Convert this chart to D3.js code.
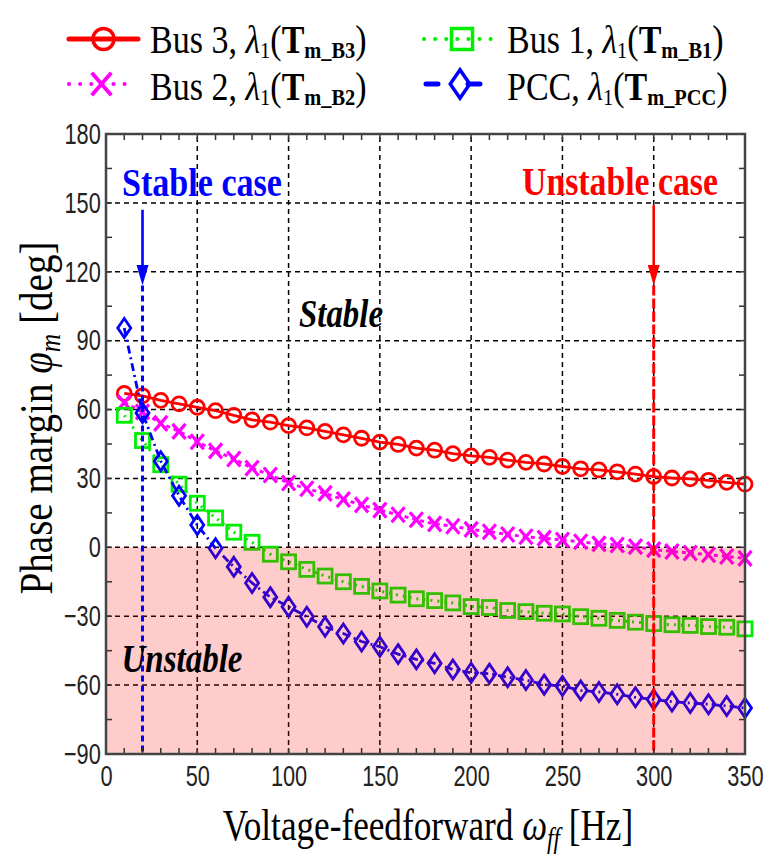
<!DOCTYPE html>
<html><head><meta charset="utf-8">
<script src="https://cdn.jsdelivr.net/npm/d3@7"></script>
<style>body{margin:0;background:#fff} svg{display:block}</style>
</head><body>
<svg id="c" width="767" height="854"></svg>
<script>
// ---------------- data ----------------
const freqHz = [10,20,30,40,50,60,70,80,90,100,110,120,130,140,150,160,170,180,190,200,210,220,230,240,250,260,270,280,290,300,310,320,330,340,350];
const bus3 = [67,66,64,62.5,61,59.5,57.5,55.5,54.5,53,52,50.5,49,47.5,45.8,44.8,43.2,42.3,40.8,39.8,39.2,38,37,36.3,35.2,34.2,33.7,32.9,31.9,30.8,30.2,29.8,29.2,28.3,27.5];
const bus2 = [63,59,54,50.5,46,42,38.5,34.5,31.5,28,25.5,23.5,20.8,18.5,16.2,14.2,12,10.2,9.2,7.8,6.8,5.6,4.6,4,3.2,2.4,1.5,1,0.3,-1,-1.8,-2.5,-3.2,-4,-4.8];
const bus1 = [57.5,46.5,36,27.5,19.2,12.8,6.6,2.2,-3,-6.3,-9.6,-12.5,-15,-17,-19,-20.8,-22.4,-23.2,-24.2,-25.8,-26.2,-27.5,-28,-28.7,-29,-30.2,-30.9,-31.8,-32.6,-33.2,-33.7,-34,-34.5,-34.8,-35.5];
const pcc = [95.5,58.5,37.5,22.5,9.7,-0.4,-8.5,-15.5,-21.7,-25.9,-30.2,-34.6,-37.5,-41,-43.3,-46.5,-48.8,-50.5,-53.2,-54.6,-55,-56.6,-57.8,-59.8,-60.4,-62.3,-63,-64,-65.3,-66.3,-67.2,-67.8,-68.3,-69.1,-70];
const xTicks = [0,50,100,150,200,250,300,350];
const yTicks = [-90,-60,-30,0,30,60,90,120,150,180];
const seriesNames = ["Bus 3","Bus 1","Bus 2","PCC"];
const seriesSubs = ["m_B3","m_B1","m_B2","m_PCC"];
const stableCaseHz = 20, unstableCaseHz = 300;

// ---------------- setup ----------------
const svg = d3.select("#c");
const x = d3.scaleLinear().domain([0,350]).range([106,745]);
const y = d3.scaleLinear().domain([-90,180]).range([754,134]);
const X0 = x.range()[0], X1 = x.range()[1], Y0 = y.range()[0], Y1 = y.range()[1];

const styles = {
  "Bus 3": {color:"#ff0000", dash:null, width:2.8, marker:"circle", data:bus3},
  "Bus 1": {color:"#00ee00", dash:"2,5", width:3, marker:"square", data:bus1},
  "Bus 2": {color:"#ff00ff", dash:"4,4", width:3, marker:"x", data:bus2},
  "PCC":   {color:"#0000ff", dash:"8,4,2,4", width:2.8, marker:"diamond", data:pcc}
};

function drawMarker(g, type, color, k, sw) {
  k = k || 1; sw = sw || 2.8;
  if (type==="circle") g.append("circle").attr("r",7*k).attr("fill","none").attr("stroke",color).attr("stroke-width",sw);
  else if (type==="square") g.append("rect").attr("x",-7*k).attr("y",-7*k).attr("width",14*k).attr("height",14*k).attr("fill","none").attr("stroke",color).attr("stroke-width",sw);
  else if (type==="x") g.append("path").attr("d",`M${-6.5*k},${-7.5*k}L${6.5*k},${7.5*k}M${-6.5*k},${7.5*k}L${6.5*k},${-7.5*k}`).attr("stroke",color).attr("stroke-width",sw+0.4).attr("fill","none");
  else if (type==="diamond") g.append("path").attr("d",`M0,${-9.5*k}L${6.5*k},0L0,${9.5*k}L${-6.5*k},0Z`).attr("fill","none").attr("stroke",color).attr("stroke-width",sw);
}

// grid
const grid = svg.append("g");
grid.selectAll(".gx").data(xTicks.slice(1,-1)).join("line")
  .attr("x1",d=>x(d)).attr("x2",d=>x(d)).attr("y1",Y0).attr("y2",Y1)
  .attr("stroke","#000").attr("stroke-width",1.5).attr("stroke-dasharray","5,4");
grid.selectAll(".gy").data(yTicks.slice(1,-1)).join("line")
  .attr("y1",d=>y(d)).attr("y2",d=>y(d)).attr("x1",X0).attr("x2",X1)
  .attr("stroke","#000").attr("stroke-width",1.5).attr("stroke-dasharray","5,4");

// series
const order = ["Bus 3","Bus 2","Bus 1","PCC"];
order.forEach(name=>{
  const s = styles[name];
  const pts = freqHz.map((f,i)=>[f,s.data[i]]);
  svg.append("path").datum(pts)
    .attr("d", d3.line().x(d=>x(d[0])).y(d=>y(d[1])))
    .attr("fill","none").attr("stroke",s.color).attr("stroke-width",s.width)
    .attr("stroke-dasharray",s.dash);
  pts.forEach(p=>{
    const g = svg.append("g").attr("transform",`translate(${x(p[0])},${y(p[1])})`);
    drawMarker(g, s.marker, s.color);
  });
});

// unstable region overlay
svg.append("rect").attr("x",X0).attr("y",y(0)).attr("width",X1-X0).attr("height",Y0-y(0))
  .attr("fill","#ff0000").attr("fill-opacity",0.2);

// case markers (arrows + vertical lines)
function caseArrow(hz, color, dash, yTop, label, lx, lbase, lw) {
  const xp = x(hz);
  svg.append("line").attr("x1",xp).attr("x2",xp).attr("y1",y(yTop)).attr("y2",y(122))
    .attr("stroke",color).attr("stroke-width",2.6);
  svg.append("path").attr("d",`M${xp-6},${y(123)}L${xp+6},${y(123)}L${xp},${y(114)}Z`).attr("fill",color);
  svg.append("line").attr("x1",xp).attr("x2",xp).attr("y1",y(114)).attr("y2",Y0)
    .attr("stroke",color).attr("stroke-width",3).attr("stroke-dasharray",dash);
  svg.append("text").attr("x",lx).attr("y",lbase).attr("text-anchor","middle")
    .attr("font-family","Liberation Serif, serif").attr("font-weight","bold").attr("font-size",40)
    .attr("fill",color).attr("textLength",lw).attr("lengthAdjust","spacingAndGlyphs").text(label);
}
caseArrow(stableCaseHz, "#0000ff", "6,4", 147, "Stable case", 202, 196, 160);
caseArrow(unstableCaseHz, "#ff0000", "10,3", 149, "Unstable case", 620, 195, 196);

// region labels
svg.append("text").attr("x",341).attr("y",327).attr("text-anchor","middle")
  .attr("font-family","Liberation Serif, serif").attr("font-weight","bold").attr("font-style","italic")
  .attr("font-size",40).attr("textLength",84).attr("lengthAdjust","spacingAndGlyphs").text("Stable");
svg.append("text").attr("x",182).attr("y",672).attr("text-anchor","middle")
  .attr("font-family","Liberation Serif, serif").attr("font-weight","bold").attr("font-style","italic")
  .attr("font-size",40).attr("textLength",121).attr("lengthAdjust","spacingAndGlyphs").text("Unstable");

// ticks (inward) on all sides
const minorX = d3.range(0,351,10), minorY = d3.range(-90,181,15);
const tk = svg.append("g").attr("stroke","#333").attr("stroke-width",1.5);
minorX.forEach(v=>{
  tk.append("line").attr("x1",x(v)).attr("x2",x(v)).attr("y1",Y0).attr("y2",Y0-6);
  tk.append("line").attr("x1",x(v)).attr("x2",x(v)).attr("y1",Y1).attr("y2",Y1+6);
});
minorY.forEach(v=>{
  tk.append("line").attr("y1",y(v)).attr("y2",y(v)).attr("x1",X0).attr("x2",X0+6);
  tk.append("line").attr("y1",y(v)).attr("y2",y(v)).attr("x1",X1).attr("x2",X1-6);
});
// frame
svg.append("rect").attr("x",X0).attr("y",Y1).attr("width",X1-X0).attr("height",Y0-Y1)
  .attr("fill","none").attr("stroke","#444").attr("stroke-width",2.5);

// axis tick labels
const xa = svg.append("g").attr("transform",`translate(0,${Y0})`)
  .call(d3.axisBottom(x).tickValues(xTicks).tickSize(0).tickPadding(11).tickFormat(d3.format("d")));
xa.select(".domain").remove();
xa.selectAll("text").attr("font-family","Liberation Sans, Arial, sans-serif").attr("font-size",29)
  .attr("fill","#222").attr("transform","scale(0.75,1)");
const ya = svg.append("g").attr("transform",`translate(${X0},0)`)
  .call(d3.axisLeft(y).tickValues(yTicks).tickSize(0).tickPadding(7).tickFormat(d3.format("d")));
ya.select(".domain").remove();
ya.selectAll("text").attr("font-family","Liberation Sans, Arial, sans-serif").attr("font-size",29)
  .attr("fill","#222").attr("transform","scale(0.75,1)");

// axis titles
const xt = svg.append("text").attr("transform","translate(428,840) scale(0.8,1)").attr("text-anchor","middle")
  .attr("font-family","Liberation Serif, serif").attr("font-size",44).attr("fill","#000");
xt.append("tspan").text("Voltage-feedforward ");
xt.append("tspan").attr("font-style","italic").text("ω");
xt.append("tspan").attr("font-style","italic").attr("font-size",29).attr("dy",8).text("ff");
xt.append("tspan").attr("dy",-8).text(" [Hz]");

const yt = svg.append("text").attr("transform","translate(52,418) rotate(-90) scale(0.85,1)").attr("text-anchor","middle")
  .attr("font-family","Liberation Serif, serif").attr("font-size",46).attr("fill","#000");
yt.append("tspan").text("Phase margin ");
yt.append("tspan").attr("font-style","italic").text("φ");
yt.append("tspan").attr("font-style","italic").attr("font-size",30).attr("dy",8).text("m");
yt.append("tspan").attr("dy",-8).text(" [deg]");

// legend
const legendPos = {"Bus 3":[69,138,150,39,53], "Bus 1":[424,500,507,39,53], "Bus 2":[69,134,150,84,100], "PCC":[426,494,507,84,100]};
seriesNames.forEach((name,i)=>{
  const s = styles[name], p = legendPos[name];
  svg.append("line").attr("x1",p[0]).attr("x2",p[1]).attr("y1",p[3]).attr("y2",p[3])
    .attr("stroke",s.color).attr("stroke-width",name==="Bus 3"?5:(name==="PCC"?5:4))
    .attr("stroke-linecap","round").attr("stroke-dasharray",
      name==="Bus 1"?"0.1,11": name==="Bus 2"?"0.1,11": name==="PCC"?"12,30":null);
  const mg = svg.append("g").attr("transform",`translate(${(p[0]+p[1])/2},${p[3]})`);
  drawMarker(mg, s.marker, s.color, 1.5, 3.5);
  const t = svg.append("text").attr("transform",`translate(${p[2]},${p[4]}) scale(0.85,1)`)
    .attr("font-family","Liberation Serif, serif").attr("font-size",40).attr("fill","#000");
  t.append("tspan").text(name+", ");
  t.append("tspan").attr("font-style","italic").text("λ");
  t.append("tspan").attr("font-size",24).attr("dy",5).text("1");
  t.append("tspan").attr("dy",-5).text("(");
  t.append("tspan").attr("font-weight","bold").text("T");
  t.append("tspan").attr("font-weight","bold").attr("font-size",24).attr("dy",5).text(seriesSubs[i]);
  t.append("tspan").attr("dy",-5).text(")");
});
</script>
</body></html>
